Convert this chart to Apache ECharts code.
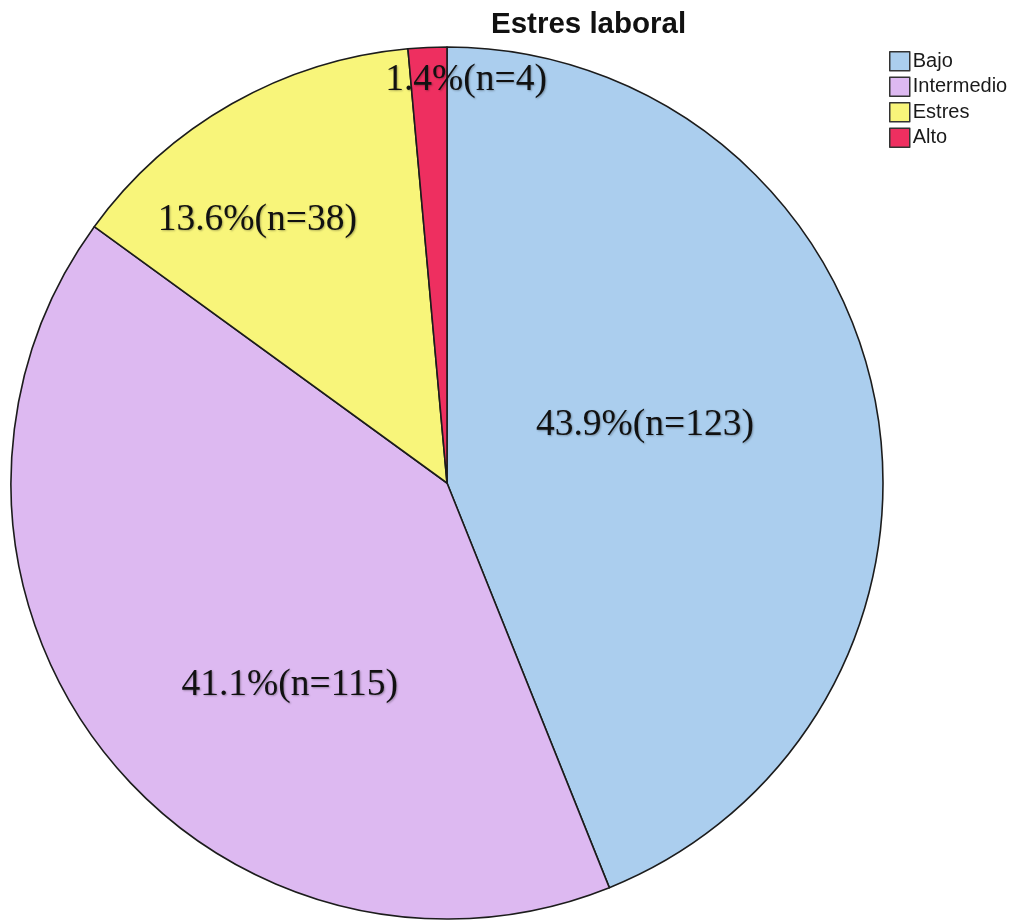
<!DOCTYPE html>
<html>
<head>
<meta charset="utf-8">
<script src="https://cdn.jsdelivr.net/npm/echarts@6/dist/echarts.min.js"></script>
<style>
  html, body { margin: 0; padding: 0; background: #ffffff; }
  #chart { width: 1013px; height: 922px; }
</style>
</head>
<body>
<div id="chart"></div>
<script>
// Work stress levels: respondents per category
const categories = ['Bajo', 'Intermedio', 'Estres', 'Alto'];
const counts = [123, 115, 38, 4];

// Slice fills, in category order
const sliceColors = ['#ABCEEE', '#DDB9F1', '#F8F57A', '#EE2F60'];

// Where each slice label sits: [angle clockwise from 12 o'clock in degrees, fraction of radius]
const labelSpots = [[73.7, 0.473], [217.9, 0.587], [324.2, 0.744], [2.7, 0.925]];

const pieCenter = [447, 483];
const pieRadius = 436;

const total = counts.reduce((a, b) => a + b, 0);

const chart = echarts.init(document.getElementById('chart'), null, { renderer: 'canvas' });

chart.setOption({
  animation: false,
  backgroundColor: '#ffffff',
  title: {
    text: 'Estres laboral',
    left: 491,
    top: 10,
    padding: 0,
    textStyle: {
      fontFamily: 'Liberation Sans',
      fontWeight: 'bold',
      fontSize: 29.5,
      lineHeight: 29,
      color: '#111111'
    }
  },
  legend: {
    orient: 'vertical',
    left: 889,
    top: 51,
    padding: 0,
    itemWidth: 20,
    itemHeight: 19,
    itemGap: 5,
    icon: 'rect',
    selectedMode: false,
    data: categories,
    itemStyle: { borderColor: '#333333', borderWidth: 1.5 },
    textStyle: {
      fontFamily: 'Liberation Sans',
      fontSize: 20,
      lineHeight: 19,
      color: '#1a1a1a',
      padding: [0, 0, 0, -2]
    }
  },
  series: [{
    type: 'pie',
    center: pieCenter,
    radius: pieRadius,
    startAngle: 90,
    clockwise: true,
    avoidLabelOverlap: false,
    emphasis: { disabled: true },
    itemStyle: { borderColor: '#1c1c1c', borderWidth: 1.6 },
    labelLine: { show: false },
    label: {
      show: true,
      position: 'inside',
      fontFamily: 'Liberation Serif',
      fontSize: 37.5,
      color: '#111111',
      textShadowColor: 'rgba(0,0,0,0.3)',
      textShadowBlur: 2,
      textShadowOffsetX: 1,
      textShadowOffsetY: 1,
      formatter: p => (p.value / total * 100).toFixed(1) + '%(n=' + p.value + ')'
    },
    labelLayout: p => {
      const [deg, frac] = labelSpots[p.dataIndex];
      const rad = deg * Math.PI / 180;
      return {
        x: pieCenter[0] + Math.sin(rad) * pieRadius * frac,
        y: pieCenter[1] - Math.cos(rad) * pieRadius * frac,
        align: 'center',
        verticalAlign: 'middle'
      };
    },
    data: categories.map((name, i) => ({
      name: name,
      value: counts[i],
      itemStyle: { color: sliceColors[i] }
    }))
  }]
});
</script>
</body>
</html>
